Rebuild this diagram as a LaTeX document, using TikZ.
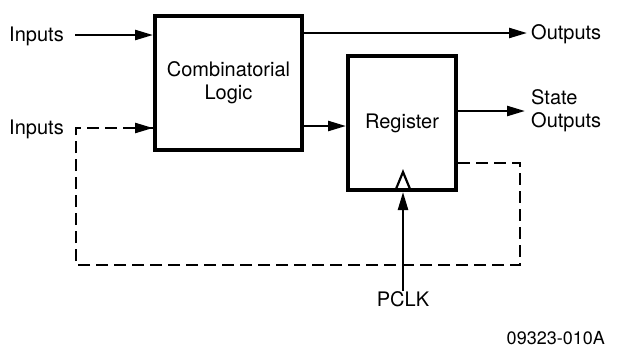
\documentclass[tikz,border=0pt]{standalone}
\usepackage{fontspec}
\setmainfont{TeX Gyre Heros}
\usetikzlibrary{arrows.meta}
\begin{document}
\begin{tikzpicture}[x=1pt,y=-1pt,
  txt/.style={font=\fontsize{20}{23}\selectfont},
  blk/.style={draw,line width=4pt,inner sep=0pt,align=center,txt},
  lbl/.style={inner sep=0pt,txt,align=left},
  sig/.style={line width=2.4pt,-{Triangle[length=18pt,width=10pt]}},
  fb/.style={line width=2.4pt,dash pattern=on 12pt off 6pt}]
\useasboundingbox (0,0) rectangle (621,354);
\node[blk,minimum width=147pt,minimum height=134pt] (comb) at (228.5,83) {Combinatorial\\Logic};
\node[blk,minimum width=108pt,minimum height=134pt] (reg) at (402,123) {Register};
\node[lbl,anchor=west] (in1) at (9,36) {Inputs};
\node[lbl,anchor=west] (in2) at (9,129) {Inputs};
\node[lbl,anchor=west] (out) at (531,34) {Outputs};
\node[lbl,anchor=west] (sout) at (531,111) {State\\Outputs};
\node[lbl,anchor=north] (pclk) at (403,291) {PCLK};
\node[inner sep=0pt,font=\fontsize{18}{21}\selectfont,anchor=east] (code) at (605,338) {09323-010A};
\coordinate (a1) at (75,35);
\coordinate (o1) at (527,33);
\coordinate (s1) at (525,111);
\coordinate (f1) at (520,163);
\coordinate (f2) at (520,265);
\coordinate (f3) at (76,265);
\coordinate (f4) at (76,128);
\draw[sig] (a1) -- (a1 -| comb.west);
\draw[sig] (comb.east |- o1) -- (o1);
\draw[sig] (comb.east |- 0,126) -- (reg.west |- 0,126);
\draw[sig] (reg.east |- s1) -- (s1);
\draw[fb] (reg.east |- f1) -- (f1) -- (f2) -- (f3) -- (f4) -- (comb.west |- f4);
\draw[line width=2.4pt,-{Triangle[length=18pt,width=10pt]}] (f4) ++(60,0) -- (comb.west |- f4);
\draw[sig] (pclk.north) -- (pclk.north |- reg.south);
\draw[line width=2.2pt,line join=miter] (396,189) -- (403,172) -- (410,189);
\end{tikzpicture}
\end{document}
